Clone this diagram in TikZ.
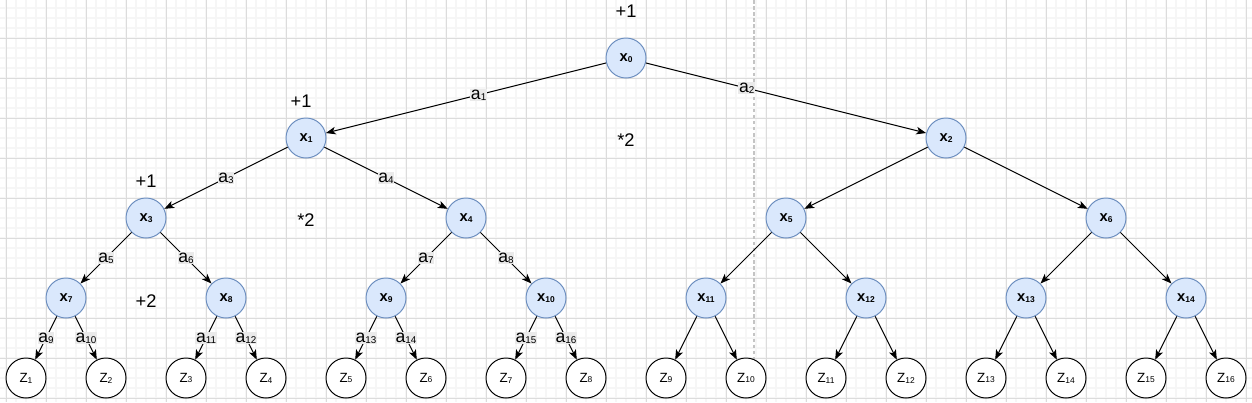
\documentclass[tikz,border=0pt]{standalone}
\usepackage{fontspec}
\setmainfont{Liberation Sans}
\usepackage{tikz}
\usetikzlibrary{arrows.meta}
\definecolor{StateFill}{HTML}{DAE8FC}
\definecolor{StateLine}{HTML}{6C8EBF}
\definecolor{LabelBack}{HTML}{EAEAEA}
\definecolor{GridMajor}{HTML}{DCDCDC}
\definecolor{GridMinor}{HTML}{F6F6F6}
\definecolor{SplitLine}{HTML}{C4C4C4}

\newcommand{\xname}[1]{\textbf{x}\raisebox{-0.6pt}{\fontsize{6}{6}\selectfont\textbf{#1}}}
\newcommand{\zname}[1]{Z\raisebox{-0.6pt}{\fontsize{6}{6}\selectfont #1}}
\newcommand{\aname}[1]{a\raisebox{-0.6pt}{\fontsize{7}{7}\selectfont #1}}

\tikzset{
  statenode/.style={circle, draw=StateLine, fill=StateFill, line width=0.7pt,
    minimum size=1cm, inner sep=0pt, font=\fontsize{10.5}{11}\selectfont},
  leafnode/.style={circle, draw=black, fill=white, line width=0.7pt,
    minimum size=1cm, inner sep=0pt, font=\fontsize{9.5}{10}\selectfont},
  link/.style={-{Stealth[length=7pt, width=5.4pt, inset=1.8pt]}, line width=0.7pt},
  actlabel/.style={fill=LabelBack, inner sep=0.6pt, font=\fontsize{12.5}{12}\selectfont},
  gain/.style={font=\fontsize{13}{13}\selectfont, inner sep=0pt},
  minorline/.style={GridMinor, line width=1pt},
  majorline/.style={GridMajor, line width=0.6pt},
}

\begin{document}
\begin{tikzpicture}[x=0.025cm, y=-0.025cm]
    \useasboundingbox (0,0) rectangle (1252,402);
    % grid
    \foreach \gx in {6,16,...,1246} {
        \draw[minorline] (\gx,0) -- (\gx,402);
    }
    \foreach \gy in {8,18,...,398} {
        \draw[minorline] (0,\gy) -- (1252,\gy);
    }
    \foreach \gx in {6,46,...,1246} {
        \draw[majorline] (\gx,0) -- (\gx,402);
    }
    \foreach \gy in {38,78,...,398} {
        \draw[majorline] (0,\gy) -- (1252,\gy);
    }
    \coordinate (splittop) at (754,0);
    \coordinate (splitbot) at (754,360);
    \draw[SplitLine, line width=1pt, dash pattern=on 2.5pt off 1.8pt] (splittop) -- (splitbot);

    % states
    \node[statenode] (x0) at (626,58) {\xname{0}};
    \foreach \n/\px in {1/306, 2/946} {
        \node[statenode] (x\n) at (\px,138) {\xname{\n}};
    }
    \foreach \n/\px in {3/146, 4/466, 5/786, 6/1106} {
        \node[statenode] (x\n) at (\px,218) {\xname{\n}};
    }
    \foreach \n/\px in {7/66, 8/226, 9/386, 10/546, 11/706, 12/866, 13/1026, 14/1186} {
        \node[statenode] (x\n) at (\px,298) {\xname{\n}};
    }
    % leaves
    \foreach \n in {1,...,16} {
        \node[leafnode] (z\n) at ({80*\n-54},378) {\zname{\n}};
    }

    % labelled edges
    \foreach \p/\c/\l/\t in {x0/x1/1/0.455, x0/x2/2/0.36, x1/x3/3/0.5, x1/x4/4/0.5,
        x3/x7/5/0.5, x3/x8/6/0.5, x4/x9/7/0.5, x4/x10/8/0.5,
        x7/z1/9/0.5, x7/z2/10/0.5, x8/z3/11/0.5, x8/z4/12/0.5,
        x9/z5/13/0.5, x9/z6/14/0.5, x10/z7/15/0.5, x10/z8/16/0.5} {
        \draw[link] (\p) -- node[actlabel, pos=\t] {\aname{\l}} (\c);
    }
    % plain edges
    \foreach \p/\c in {x2/x5, x2/x6, x5/x11, x5/x12, x6/x13, x6/x14,
        x11/z9, x11/z10, x12/z11, x12/z12, x13/z13, x13/z14, x14/z15, x14/z16} {
        \draw[link] (\p) -- (\c);
    }

    % gains
    \node[gain] (g0) at (626,11) {+1};
    \node[gain] (g1) at (301,101) {+1};
    \node[gain] (g3) at (146,181) {+1};
    \node[gain] (g7) at (146,301) {+2};
    \node[gain] (m0) at (626,140) {*2};
    \node[gain] (m1) at (306,220) {*2};
\end{tikzpicture}
\end{document}
